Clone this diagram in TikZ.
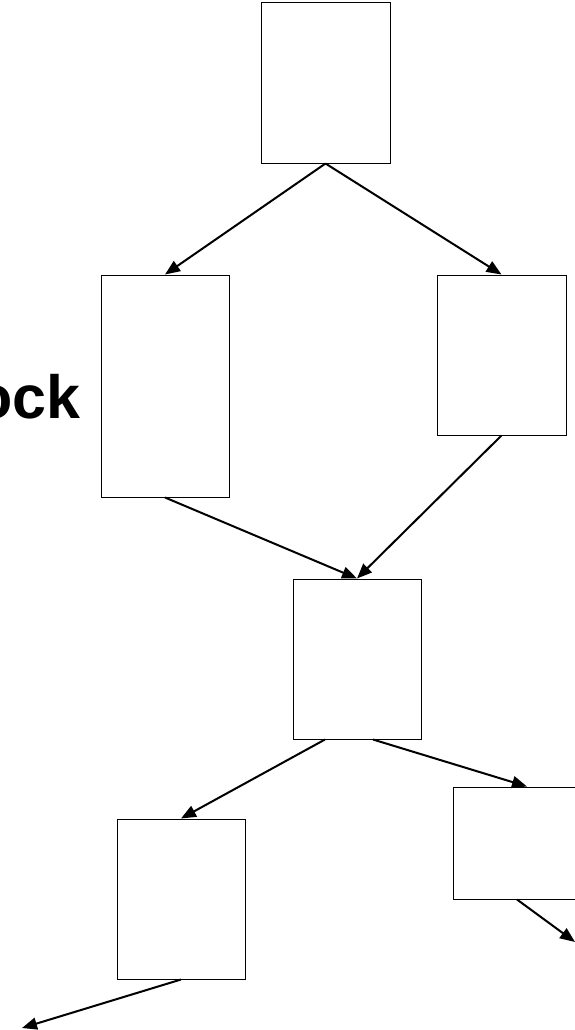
\documentclass[tikz,border=0pt]{standalone}
\usepackage{fontspec}
\setmainfont{Liberation Sans}
\usetikzlibrary{positioning,shapes,arrows,arrows.meta}

\tikzset{
	blockbox/.style={draw,line width=1pt,inner sep=0pt},
	flowarrow/.style={line width=2pt,-{Triangle[length=15pt,width=12pt]}}
}

\begin{document}
\begin{tikzpicture}[x=1pt,y=-1pt]
		% Page frame
		\useasboundingbox (0,0) rectangle (575,1030);

		% Boxes
		\node[blockbox,minimum width=129pt,minimum height=160pt] (top) at (325.5,83) {};
		\node[blockbox,minimum width=128pt,minimum height=222pt] (left) at (165,386) {};
		\node[blockbox,minimum width=129pt,minimum height=160pt] (right) at (501.5,355) {};
		\node[blockbox,minimum width=128pt,minimum height=160pt] (mid) at (357,659) {};
		\node[blockbox,minimum width=128pt,minimum height=160pt] (lowleft) at (181,899) {};
		\node[blockbox,minimum width=128pt,minimum height=112pt] (lowright) at (517,843) {};

		% Loose ends
		\coordinate (outright) at (575,942);
		\coordinate (outleft) at (22,1028);

		% Label
		\node[anchor=base east,inner sep=0pt,font=\bfseries\fontsize{61}{61}\selectfont] (lbl) at (81,418) {ock};

		% Arrows
		\draw[flowarrow] (top.south) -- (left.north);
		\draw[flowarrow] (top.south) -- (right.north);
		\draw[flowarrow] (left.south) -- (mid.north);
		\draw[flowarrow] (right.south) -- (mid.north);
		\draw[flowarrow] ([xshift=-32pt]mid.south) -- (lowleft.north);
		\draw[flowarrow] ([xshift=16pt]mid.south) -- ([xshift=10pt]lowright.north);
		\draw[flowarrow] (lowright.south) -- (outright);
		\draw[flowarrow] (lowleft.south) -- (outleft);
	\end{tikzpicture}
\end{document}
